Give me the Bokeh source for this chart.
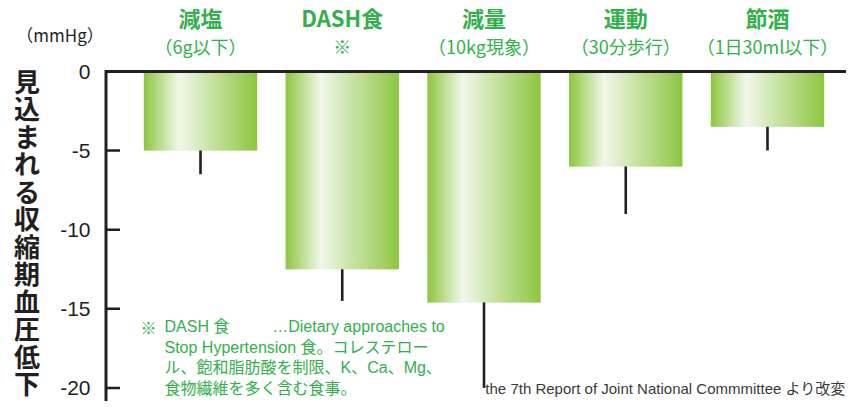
import numpy as np
from bokeh.plotting import figure
from bokeh.models import ColumnDataSource, Label
from bokeh.core.properties import value
from bokeh.embed import file_html
from bokeh.resources import INLINE

# ---- data ----
categories = ["減塩", "DASH食", "減量", "運動", "節酒"]
subtitles = ["（6g以下）", "※", "（10kg現象）", "（30分歩行）", "（1日30ml以下）"]
reduction = [-5.0, -12.5, -14.6, -6.0, -3.5]
reduction_max = [-6.5, -14.5, -20.0, -9.0, -5.0]
y_ticks = [0, -5, -10, -15, -20]
y_tick_labels = ["0", "-5", "-10", "-15", "-20"]
y_title = "見込まれる収縮期血圧低下"
unit_label = "（mmHg）"
footnote_mark = "※"
footnote_head = ["DASH 食", "…Dietary approaches to"]
footnote_lines = ["Stop Hypertension 食。コレステロー",
                  "ル、飽和脂肪酸を制限、K、Ca、Mg、",
                  "食物繊維を多く含む食事。"]
source_note = "the 7th Report of Joint National Commmittee より改変"

JP = "Noto Sans CJK JP"
MIXED = "Liberation Sans, Noto Sans CJK JP"
GREEN_TXT = "#33b04b"
DARK = "#231f20"

W, H = 846, 401
PX_X = 141.75      # pixels per category step
PX_Y = 15.82       # pixels per mmHg
CX0, CY0 = 200.0, 71.0   # pixel position of category 0 / value 0

def dx(px):   # pixel column -> data x
    return (px - CX0) / PX_X

def dy(py):   # pixel row -> data y
    return (CY0 - py) / PX_Y

idx = list(range(len(categories)))
X0, X1 = dx(0), dx(W)
Y0, Y1 = dy(H), dy(0)

p = figure(width=W, height=H, output_backend="svg", toolbar_location=None,
           x_range=(X0, X1), y_range=(Y0, Y1),
           x_axis_location=None, y_axis_location=None,
           min_border=0, min_border_left=0, min_border_right=0,
           min_border_top=0, min_border_bottom=0)
p.outline_line_color = None
p.grid.visible = False
p.background_fill_color = "white"
p.border_fill_color = "white"

# ---- gradient bars (built from thin strips) ----
N = 60
bar_w = 0.8
peak = 0.31
green = np.array([0x8d, 0xc6, 0x3f], dtype=float)
light = np.array([0xf1, 0xf7, 0xe9], dtype=float)
L, R, T, B, C = [], [], [], [], []
for i, v in zip(idx, reduction):
    left0 = i - bar_w / 2
    for k in range(N):
        t = (k + 0.5) / N
        f = t / peak if t < peak else (1 - t) / (1 - peak)
        col = green + (light - green) * f
        l = left0 + k * bar_w / N
        r = min(l + 1.6 * bar_w / N, i + bar_w / 2)
        L.append(l); R.append(r); T.append(0); B.append(v)
        C.append("#%02x%02x%02x" % tuple(int(round(c)) for c in col))
p.quad(left=L, right=R, top=T, bottom=B, fill_color=C, line_color=None)

# ---- error bars ----
p.segment(x0=idx, y0=reduction, x1=idx, y1=reduction_max, line_color=DARK, line_width=2.6)

# ---- axes (drawn in the frame) ----
XA = dx(105.5)
p.segment(x0=[XA], y0=[0], x1=[X1], y1=[0], line_color=DARK, line_width=3)          # top line
p.segment(x0=[XA], y0=[dy(69.5)], x1=[XA], y1=[Y0], line_color=DARK, line_width=3)  # y axis line
tick_len = 14 / PX_X
p.segment(x0=[XA] * len(y_ticks), y0=y_ticks, x1=[XA + tick_len] * len(y_ticks), y1=y_ticks,
          line_color=DARK, line_width=2.5)
p.text(x=[dx(90)] * len(y_ticks), y=y_ticks, text=y_tick_labels, text_align="right",
       text_baseline="middle", text_font=value("Liberation Sans"), text_font_size="21px",
       text_color=DARK)

# ---- category labels ----
src = ColumnDataSource(dict(x=idx, cat=categories, sub=subtitles))
p.text(x="x", y=dy(16.5), text="cat", source=src, text_align="center", text_baseline="middle",
       text_font=value(JP), text_font_style="bold", text_font_size="22px", text_color=GREEN_TXT)
p.text(x="x", y=dy(45.5), text="sub", source=src, text_align="center", text_baseline="middle",
       text_font=value(JP), text_font_size="18px", text_color=GREEN_TXT)

# ---- vertical y title & unit ----
chars = list(y_title)
pitch = 27.5
p.text(x=[dx(26.5)] * len(chars), y=[dy(61 + k * pitch) for k in range(len(chars))], text=chars,
       text_align="center", text_baseline="top", text_font=value(JP), text_font_style="bold",
       text_font_size="26px", text_color=DARK)
p.text(x=[dx(59.5)], y=[dy(34)], text=[unit_label], text_align="center", text_baseline="middle",
       text_font=value(JP), text_font_size="17px", text_color=DARK)

# ---- footnote ----
fy0, fpitch = 326.0, 20.7
p.add_layout(Label(x=dx(140), y=dy(fy0), text=footnote_mark, text_align="left",
                   text_baseline="middle", text_font=JP, text_font_size="16px",
                   text_color=GREEN_TXT))
p.add_layout(Label(x=dx(164), y=dy(fy0), text=footnote_head[0], text_align="left",
                   text_baseline="middle", text_font=MIXED, text_font_size="16px",
                   text_color=GREEN_TXT))
p.add_layout(Label(x=dx(358), y=dy(fy0), text=footnote_head[1], text_align="center",
                   text_baseline="middle", text_font=MIXED, text_font_size="16px",
                   text_color=GREEN_TXT))
for k, line in enumerate(footnote_lines, start=1):
    p.add_layout(Label(x=dx(164), y=dy(fy0 + k * fpitch), text=line, text_align="left",
                       text_baseline="middle", text_font=MIXED, text_font_size="16px",
                       text_color=GREEN_TXT))

# ---- source ----
p.add_layout(Label(x=dx(845), y=dy(fy0 + 3 * fpitch), text=source_note, text_align="right",
                   text_baseline="middle", text_font=MIXED, text_font_size="15px",
                   text_color="#3a3a3a"))

open("out.html", "w").write(file_html(p, INLINE))
